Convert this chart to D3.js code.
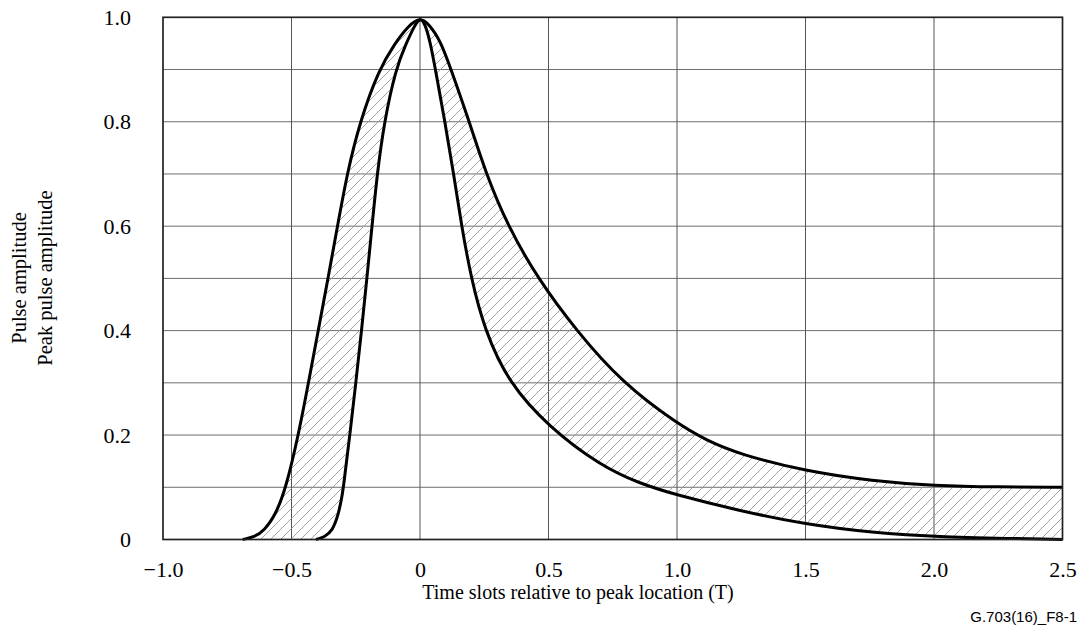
<!DOCTYPE html>
<html>
<head>
<meta charset="utf-8">
<script src="https://cdn.jsdelivr.net/npm/d3@7"></script>
<style>
  html, body { margin: 0; padding: 0; background: #fff; }
  svg { display: block; }
</style>
</head>
<body>
<svg id="chart" width="1083" height="631"></svg>
<script>
// ---- data ----
const xTickValues = [-1.0, -0.5, 0, 0.5, 1.0, 1.5, 2.0, 2.5];
const xTickLabels = ["\u22121.0", "\u22120.5", "0", "0.5", "1.0", "1.5", "2.0", "2.5"];
const yTickValues = [0, 0.2, 0.4, 0.6, 0.8, 1.0];
const yTickLabels = ["0", "0.2", "0.4", "0.6", "0.8", "1.0"];
const yGridValues = [0.1, 0.2, 0.3, 0.4, 0.5, 0.6, 0.7, 0.8, 0.9];
const xGridValues = [-0.5, 0, 0.5, 1.0, 1.5, 2.0];

// outer (wide) limit of the pulse mask
const outerT = [-0.69, -0.645, -0.606, -0.56, -0.521, -0.473, -0.434, -0.396, -0.358, -0.321, -0.284, -0.234, -0.16, -0.098, -0.045, 0, 0.035, 0.08, 0.121, 0.192, 0.257, 0.342, 0.458, 0.608, 0.787, 1.0, 1.114, 1.244, 1.5, 1.763, 2.0, 2.25, 2.5];
const outerV = [0, 0.0045, 0.017, 0.049, 0.1, 0.2, 0.3, 0.4, 0.5, 0.6, 0.7, 0.8, 0.9, 0.95, 0.984, 1.0, 0.987, 0.955, 0.9, 0.8, 0.7, 0.6, 0.5, 0.4, 0.3, 0.222, 0.19, 0.163, 0.131, 0.112, 0.103, 0.1005, 0.1];

// inner (narrow) limit of the pulse mask
const innerT = [-0.405, -0.372, -0.34, -0.317, -0.304, -0.298, -0.273, -0.2497, -0.2275, -0.2067, -0.1867, -0.1667, -0.139, -0.095, -0.054, -0.02, 0, 0.02, 0.041, 0.06, 0.097, 0.131, 0.162, 0.199, 0.252, 0.345, 0.5, 0.7, 0.855, 1.0, 1.244, 1.5, 1.763, 2.0, 2.5];
const innerV = [0, 0.0045, 0.017, 0.049, 0.081, 0.1, 0.2, 0.3, 0.4, 0.5, 0.6, 0.7, 0.8, 0.9, 0.95, 0.985, 1.0, 0.988, 0.95, 0.9, 0.8, 0.7, 0.6, 0.5, 0.4, 0.3, 0.216, 0.142, 0.107, 0.085, 0.055, 0.029, 0.013, 0.005, 0];

const outerPts = outerT.map((t, i) => [t, outerV[i]]);
const innerPts = innerT.map((t, i) => [t, innerV[i]]);

// ---- layout ----
const svg = d3.select("#chart");
const x = d3.scaleLinear().domain([-1, 2.5]).range([163, 1062.5]);
const y = d3.scaleLinear().domain([0, 1]).range([539.5, 17.3]);
const serif = "'Liberation Serif', 'Times New Roman', serif";

// hatch pattern
const defs = svg.append("defs");
const pat = defs.append("pattern")
  .attr("id", "hatch").attr("patternUnits", "userSpaceOnUse")
  .attr("width", 10).attr("height", 10);
pat.append("path")
  .attr("d", "M-2,2 L2,-2 M0,10 L10,0 M8,12 L12,8")
  .attr("stroke", "#929292").attr("stroke-width", 0.85).attr("fill", "none");

// grid
const grid = svg.append("g");
grid.selectAll("line.h").data(yGridValues).join("line")
  .attr("x1", x(-1)).attr("x2", x(2.5))
  .attr("y1", d => y(d)).attr("y2", d => y(d))
  .attr("stroke", "#6e6e6e").attr("stroke-width", 1);
grid.selectAll("line.v").data(xGridValues).join("line")
  .attr("y1", y(0)).attr("y2", y(1))
  .attr("x1", d => x(d)).attr("x2", d => x(d))
  .attr("stroke", "#555").attr("stroke-width", 1);

// hatched region between the curves (evenodd of two areas)
const curve = d3.curveBasis;
const area = d3.area().x(d => x(d[0])).y0(y(0)).y1(d => y(d[1])).curve(curve);
svg.append("path")
  .attr("d", area(outerPts) + area(innerPts))
  .attr("fill", "url(#hatch)")
  .attr("fill-rule", "evenodd")
  .attr("stroke", "none");

// curves
const line = d3.line().x(d => x(d[0])).y(d => y(d[1])).curve(curve);
[outerPts, innerPts].forEach(pts => {
  svg.append("path").attr("d", line(pts))
    .attr("fill", "none").attr("stroke", "#000")
    .attr("stroke-width", 3).attr("stroke-linejoin", "round");
});

// frame
svg.append("rect")
  .attr("x", x(-1)).attr("y", y(1))
  .attr("width", x(2.5) - x(-1)).attr("height", y(0) - y(1))
  .attr("fill", "none").attr("stroke", "#222").attr("stroke-width", 1.7);

// axes (labels only)
const xAxis = d3.axisBottom(x).tickValues(xTickValues)
  .tickFormat((d, i) => xTickLabels[i]).tickSize(0).tickPadding(0);
const gx = svg.append("g").attr("transform", "translate(0, 576.5)").call(xAxis);
gx.select(".domain").remove();
gx.selectAll("text").attr("font-family", serif).attr("font-size", 22).attr("fill", "#000")
  .attr("y", 0).attr("dy", "0");

const yAxis = d3.axisLeft(y).tickValues(yTickValues)
  .tickFormat((d, i) => yTickLabels[i]).tickSize(0).tickPadding(0);
const gy = svg.append("g").attr("transform", "translate(131, 0)").call(yAxis);
gy.select(".domain").remove();
gy.selectAll("text").attr("font-family", serif).attr("font-size", 22).attr("fill", "#000");

// titles
svg.append("text")
  .attr("x", 578).attr("y", 599)
  .attr("text-anchor", "middle")
  .attr("font-family", serif).attr("font-size", 20).attr("fill", "#000")
  .text("Time slots relative to peak location (T)");

const yt = svg.append("text")
  .attr("transform", "translate(26, 278) rotate(-90)")
  .attr("text-anchor", "middle")
  .attr("font-family", serif).attr("font-size", 20.5).attr("fill", "#000");
yt.append("tspan").attr("x", 0).attr("y", 0).text("Pulse amplitude");
yt.append("tspan").attr("x", 0).attr("y", 26).text("Peak pulse amplitude");

svg.append("text")
  .attr("x", 1077).attr("y", 622)
  .attr("text-anchor", "end")
  .attr("font-family", "'Liberation Sans', Arial, sans-serif").attr("font-size", 15).attr("fill", "#000")
  .text("G.703(16)_F8-1");
</script>
</body>
</html>
